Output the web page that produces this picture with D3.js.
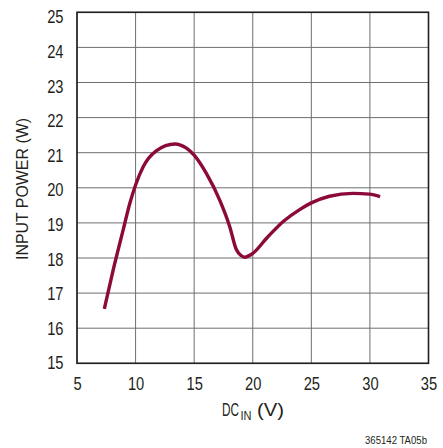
<!DOCTYPE html>
<html>
<head>
<meta charset="utf-8">
<script src="https://d3js.org/d3.v7.min.js"></script>
<style>
  body { margin: 0; background: #fff; }
  text { font-family: "Liberation Sans", Arial, sans-serif; fill: #231f20; }
</style>
</head>
<body>
<div id="chart"></div>
<script>
// curve
const vin   = [7.33, 8.09, 8.94, 9.51, 10.0, 10.65, 11.79, 13.35, 14.34, 15.0, 16.04, 17.18, 18.03, 18.6, 19.0, 19.3, 20.0, 21.2, 22.6, 24.0, 25.0, 26.55, 28.53, 29.96, 30.87];
const power = [16.55, 17.66, 18.8, 19.56, 20.08, 20.6, 21.06, 21.25, 21.13, 20.93, 20.41, 19.65, 18.9, 18.24, 18.07, 18.02, 18.13, 18.57, 19.04, 19.38, 19.57, 19.76, 19.84, 19.82, 19.75];
const xTicks = [5, 10, 15, 20, 25, 30, 35];
const yTicks = [15, 16, 17, 18, 19, 20, 21, 22, 23, 24, 25];

const W = 443, H = 448;
const margin = {top: 12.3, right: 14.5, bottom: 84.7, left: 77};
const width = W - margin.left - margin.right;
const height = H - margin.top - margin.bottom;

const svg = d3.select("#chart").append("svg")
    .attr("width", W).attr("height", H);
const g = svg.append("g")
    .attr("transform", `translate(${margin.left},${margin.top})`);

const x = d3.scaleLinear().domain([5, 35]).range([0, width]);
const y = d3.scaleLinear().domain([15, 25]).range([height, 0]);

// squeeze text to look like a condensed face
function squeeze(sel, k) {
    sel.each(function() {
        const len = this.getComputedTextLength();
        d3.select(this).attr("textLength", len * k).attr("lengthAdjust", "spacingAndGlyphs");
    });
}

// grid
g.selectAll(".vgrid").data(xTicks).enter().append("line")
    .attr("x1", d => x(d)).attr("x2", d => x(d))
    .attr("y1", 0).attr("y2", height)
    .attr("stroke", "#6d6e71").attr("stroke-width", 1);
g.selectAll(".hgrid").data(yTicks).enter().append("line")
    .attr("x1", 0).attr("x2", width)
    .attr("y1", d => y(d)).attr("y2", d => y(d))
    .attr("stroke", "#6d6e71").attr("stroke-width", 1);

// frame
g.append("rect")
    .attr("width", width).attr("height", height)
    .attr("fill", "none").attr("stroke", "#231f20").attr("stroke-width", 1.6);

// tick labels
const xAxis = g.append("g")
    .attr("transform", `translate(0,${height})`)
    .call(d3.axisBottom(x).tickValues(xTicks).tickSize(0).tickPadding(14));
xAxis.select(".domain").remove();
xAxis.selectAll("text").style("font-size", "17.5px").attr("fill", "#231f20").call(squeeze, 0.84);

// labels sit a little lower than the grid near the top
const yLab = y.copy().range([height, 5]);
const yAxis = g.append("g")
    .call(d3.axisLeft(yLab).tickValues(yTicks).tickSize(0).tickPadding(13.5));
yAxis.select(".domain").remove();
yAxis.selectAll("text").style("font-size", "17.5px").attr("fill", "#231f20").call(squeeze, 0.84);

// curve
const pts = vin.map((v, i) => [v, power[i]]);
g.append("path")
    .datum(pts)
    .attr("fill", "none")
    .attr("stroke", "#8c0a3a")
    .attr("stroke-width", 3.4)
    .attr("d", d3.line().x(d => x(d[0])).y(d => y(d[1])).curve(d3.curveMonotoneX));

// axis titles
const xt = svg.append("g");
xt.append("text").attr("x", 222).attr("y", 416).style("font-size", "17.5px")
    .attr("textLength", 17).attr("lengthAdjust", "spacingAndGlyphs").text("DC");
xt.append("text").attr("x", 240.5).attr("y", 420).style("font-size", "13px")
    .attr("textLength", 11).attr("lengthAdjust", "spacingAndGlyphs").text("IN");
xt.append("text").attr("x", 257).attr("y", 416).style("font-size", "17.5px")
    .attr("textLength", 27).attr("lengthAdjust", "spacingAndGlyphs").text("(V)");

svg.append("text")
    .attr("transform", `translate(28,189) rotate(-90)`)
    .attr("text-anchor", "middle")
    .style("font-size", "17px")
    .attr("textLength", 142).attr("lengthAdjust", "spacingAndGlyphs")
    .text("INPUT POWER (W)");

svg.append("text")
    .attr("x", 427).attr("y", 444)
    .attr("text-anchor", "end")
    .style("font-size", "10px")
    .attr("textLength", 62).attr("lengthAdjust", "spacingAndGlyphs")
    .text("365142 TA05b");
</script>
</body>
</html>
